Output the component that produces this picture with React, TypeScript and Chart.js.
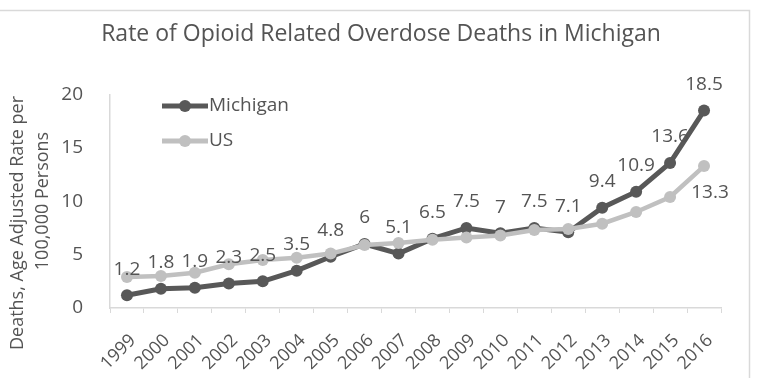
import React, { useEffect, useRef } from "react";
import { Chart, registerables } from "chart.js";

Chart.register(...registerables);

const years = ["1999","2000","2001","2002","2003","2004","2005","2006","2007","2008","2009","2010","2011","2012","2013","2014","2015","2016"];
const michigan = [1.2, 1.8, 1.9, 2.3, 2.5, 3.5, 4.8, 6, 5.1, 6.5, 7.5, 7, 7.5, 7.1, 9.4, 10.9, 13.6, 18.5];
const us = [2.9, 3.0, 3.3, 4.1, 4.5, 4.7, 5.1, 5.9, 6.1, 6.4, 6.6, 6.8, 7.3, 7.4, 7.9, 9.0, 10.4, 13.3];
const michiganLabels = ["1.2","1.8","1.9","2.3","2.5","3.5","4.8","6","5.1","6.5","7.5","7","7.5","7.1","9.4","10.9","13.6","18.5"];
const usLastLabel = "13.3";
const yTicks = [0, 5, 10, 15, 20];
const titleText = "Rate of Opioid Related Overdose Deaths in Michigan";
const yTitleLines = ["Deaths, Age Adjusted Rate per", "100,000 Persons"];
const seriesNames = ["Michigan", "US"];

const FONT = "'Open Sans', sans-serif";
const TEXT = "#545454";
const MI_COLOR = "#585858";
const US_COLOR = "#c0c0c0";

export default function App() {
  const ref = useRef<HTMLCanvasElement>(null);
  useEffect(() => {
    document.body.style.margin = "0";
    const canvas = ref.current!;
    const framePlugin = {
      id: "frame",
      beforeDraw(chart: any) {
        const ctx = chart.ctx;
        ctx.save();
        ctx.fillStyle = "#ffffff";
        ctx.fillRect(0, 0, chart.width, chart.height);
        ctx.strokeStyle = "#d9d9d9";
        ctx.lineWidth = 1.5;
        ctx.beginPath();
        ctx.moveTo(0, 10.5);
        ctx.lineTo(749.5, 10.5);
        ctx.lineTo(749.5, chart.height);
        ctx.stroke();
        ctx.restore();
      },
    };
    const extrasPlugin = {
      id: "extras",
      afterDraw(chart: any) {
        const ctx = chart.ctx;
        ctx.save();
        // y axis title
        ctx.fillStyle = TEXT;
        ctx.font = `18px ${FONT}`;
        ctx.textAlign = "center";
        ctx.textBaseline = "middle";
        const centers = [[18, 223], [43, 201]];
        yTitleLines.forEach((t, i) => {
          ctx.save();
          ctx.translate(centers[i][0], centers[i][1]);
          ctx.rotate(-Math.PI / 2);
          ctx.fillText(t, 0, 0);
          ctx.restore();
        });
        // legend
        const legendRows = [
          { name: seriesNames[0], color: MI_COLOR, y: 106 },
          { name: seriesNames[1], color: US_COLOR, y: 141 },
        ];
        ctx.font = `19px ${FONT}`;
        legendRows.forEach((r) => {
          ctx.strokeStyle = r.color;
          ctx.lineWidth = 5;
          ctx.beginPath();
          ctx.moveTo(162, r.y);
          ctx.lineTo(208, r.y);
          ctx.stroke();
          ctx.fillStyle = r.color;
          ctx.beginPath();
          ctx.arc(185, r.y, 6, 0, Math.PI * 2);
          ctx.fill();
          ctx.fillStyle = TEXT;
          ctx.textAlign = "left";
          ctx.fillText(r.name, 209, r.y);
        });
        // data labels
        ctx.textAlign = "center";
        ctx.font = `19px ${FONT}`;
        ctx.fillStyle = TEXT;
        const miMeta = chart.getDatasetMeta(0);
        miMeta.data.forEach((pt: any, i: number) => {
          ctx.fillText(michiganLabels[i], pt.x, pt.y - 26);
        });
        const usMeta = chart.getDatasetMeta(1);
        const last = usMeta.data[usMeta.data.length - 1];
        ctx.fillText(usLastLabel, last.x + 6, last.y + 27);
        ctx.restore();
      },
    };
    const chart = new Chart(canvas, {
      type: "line",
      data: {
        labels: years,
        datasets: [
          {
            label: seriesNames[0],
            data: michigan,
            borderColor: MI_COLOR,
            backgroundColor: MI_COLOR,
            borderWidth: 5,
            pointRadius: 6,
            pointBackgroundColor: MI_COLOR,
            pointBorderWidth: 0,
            tension: 0,
            order: 2,
          },
          {
            label: seriesNames[1],
            data: us,
            borderColor: US_COLOR,
            backgroundColor: US_COLOR,
            borderWidth: 4.5,
            pointRadius: 6,
            pointBackgroundColor: US_COLOR,
            pointBorderWidth: 0,
            tension: 0,
            order: 1,
          },
        ],
      },
      options: {
        responsive: false,
        animation: false,
        devicePixelRatio: 1,
        layout: { padding: { left: 41, right: 41, top: 0, bottom: 0 } },
        plugins: {
          legend: { display: false },
          tooltip: { enabled: false },
          title: {
            display: true,
            text: titleText,
            color: TEXT,
            font: { family: FONT, size: 23, weight: "normal", lineHeight: 1.2 },
            padding: { top: 21, bottom: 46 },
          },
        },
        scales: {
          x: {
            type: "category",
            offset: true,
            grid: {
              display: true,
              offset: true,
              drawOnChartArea: false,
              drawTicks: true,
              tickLength: 5,
              color: "#d9d9d9",
            },
            border: { display: true, color: "#d9d9d9", width: 1.5 },
            ticks: {
              color: TEXT,
              font: { family: FONT, size: 18 },
              minRotation: 45,
              maxRotation: 45,
              autoSkip: false,
              padding: 17,
              labelOffset: 6,
            },
            afterFit(scale: any) {
              scale.height = 70;
            },
          },
          y: {
            min: 0,
            max: 20,
            afterBuildTicks(scale: any) {
              scale.ticks = yTicks.map((v) => ({ value: v }));
            },
            grid: { display: false },
            border: { display: true, color: "#d9d9d9", width: 1.5 },
            ticks: {
              color: TEXT,
              font: { family: FONT, size: 19 },
              padding: 19,
            },
            afterFit(scale: any) {
              scale.width = 69;
            },
          },
        },
      },
      plugins: [framePlugin, extrasPlugin],
    });
    return () => chart.destroy();
  }, []);
  return <canvas ref={ref} width={762} height={378} style={{ display: "block" }} />;
}
